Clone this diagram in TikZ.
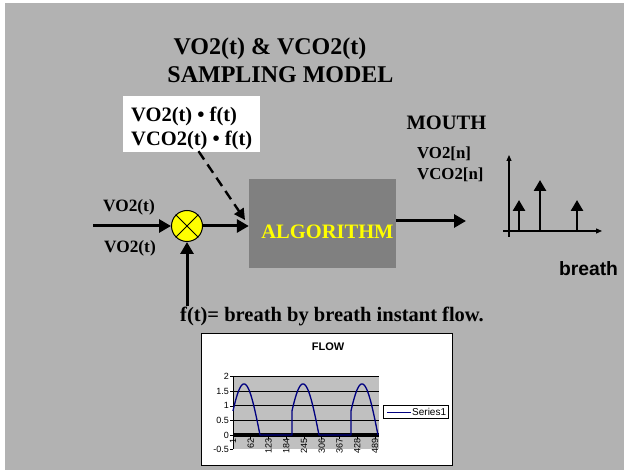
\documentclass[tikz,border=0pt]{standalone}
\usepackage{fontspec}
\setmainfont{Liberation Serif}
\setsansfont{Liberation Sans}
\usepackage{xcolor}
\usepackage{tikz}
\usetikzlibrary{arrows.meta, positioning, calc}
\definecolor{slidegray}{HTML}{B2B2B2}
\definecolor{algogray}{HTML}{808080}
\definecolor{plotgray}{HTML}{C0C0C0}
\definecolor{flownavy}{HTML}{000080}
\definecolor{multyellow}{HTML}{FFFF00}

\begin{document}
\begin{tikzpicture}[x=1pt, y=-1pt,
    bigarrow/.style={line width=3pt, -{Triangle[length=12pt,width=13pt]}},
    stemarrow/.style={line width=2.6pt, -{Triangle[length=11pt,width=12pt]}},
    axisarrow/.style={line width=1.2pt, -{Triangle[length=6pt,width=5pt]}},
    titlefont/.style={font=\bfseries\fontsize{24}{28}\selectfont, inner sep=0pt, anchor=base},
    labelfont/.style={font=\bfseries\fontsize{17.3}{21}\selectfont, inner sep=0pt, anchor=base},
    chartfont/.style={font=\sffamily\fontsize{9}{10}\selectfont, inner sep=0pt},
    declare function={hump(\x,\s)=435-29.2*1.75*sin(180*(\x-\s+5)/32);}]
  \useasboundingbox (0,0) rectangle (624,470);
  \fill[white] (0,0) rectangle (624,470);
  \fill[slidegray] (5,3) rectangle (624,470);

  % title
  \node[titlefont] (title1) at (270,55) {VO2(t) \& VCO2(t)};
  \node[titlefont] (title2) at (280.5,83) {SAMPLING MODEL};

  % product box
  \node[fill=white, minimum width=137, minimum height=56, inner sep=0pt] (prod) at (191.5,124) {};
  \node[font=\bfseries\fontsize{20.5}{24.5}\selectfont, align=left, inner sep=0pt,
        anchor=north west] (prodtxt) at (131,106.5) {VO2(t) • f(t)\\VCO2(t) • f(t)};

  % blocks
  \node[circle, draw, line width=1pt, fill=multyellow, minimum size=31, inner sep=0pt] (mult) at (187,226) {};
  \draw[line width=0.8pt] (mult.north west) -- (mult.south east)
                          (mult.north east) -- (mult.south west);
  \node[fill=algogray, minimum width=147, minimum height=89, inner sep=0pt] (algo) at (322.5,223.5) {};
  \node[font=\bfseries\fontsize{20.5}{24}\selectfont, text=multyellow, inner sep=0pt, anchor=base]
    (algolbl) at (327.5,239) {ALGORITHM};

  % signals
  \coordinate (vin) at (93,226);
  \coordinate (fin) at (187,306);
  \coordinate (mouthin) at (466,221);
  \coordinate (dashtip) at (245,220);
  \draw[bigarrow] (vin) -- (mult.west);
  \draw[bigarrow] (fin) -- (mult.south);
  \draw[bigarrow] (mult.east) -- (mult.east -| algo.west);
  \draw[bigarrow] (algo.east |- mouthin) -- (mouthin);
  \draw[line width=2.4pt, dash pattern=on 10pt off 6pt, -{Triangle[length=11pt,width=11pt]}]
    ($(prod.south)+(7,-1)$) -- (dashtip);

  \node[labelfont] (vo2a) at (129,212) {VO2(t)};
  \node[labelfont] (vo2b) at (130,252.5) {VO2(t)};
  \node[font=\bfseries\fontsize{20.5}{24}\selectfont, inner sep=0pt, anchor=base] (mouth) at (446.5,130) {MOUTH};
  \node[font=\bfseries\fontsize{16.8}{21}\selectfont, align=left, inner sep=0pt,
        anchor=north west] (vout) at (417,146.5) {VO2[n]\\VCO2[n]};
  \node[font=\bfseries\fontsize{20.5}{24}\selectfont, inner sep=0pt, anchor=base] (flowtxt) at (332,322) {f(t)= breath by breath instant flow.};
  \node[font=\sffamily\bfseries\fontsize{19.3}{22}\selectfont, inner sep=0pt, anchor=base] (breath) at (588.5,276) {breath};

  % stem plot
  \draw[axisarrow] (509,237) -- (509,155);
  \draw[axisarrow] (503,231) -- (602,231);
  \draw[stemarrow] (519,231) -- (519,200);
  \draw[stemarrow] (540,231) -- (540,180);
  \draw[stemarrow] (577,231) -- (577,200);

  % flow chart
  \draw[line width=1.8pt, fill=white] (201.5,333.5) rectangle (452.5,465.5);
  \node[font=\sffamily\bfseries\fontsize{11}{12}\selectfont, inner sep=0pt, anchor=base] (flowttl) at (328,351) {FLOW};
  \fill[plotgray] (233,376) rectangle (379,449);
  \foreach \v/\lbl in {2/2, 1.5/1.5, 1/1, 0.5/0.5} {
    \draw[line width=0.8pt] (233,{435-29.2*\v}) -- (379,{435-29.2*\v});
  }
  \foreach \v/\lbl in {2/2, 1.5/1.5, 1/1, 0.5/0.5, 0/0, -0.5/-0.5} {
    \draw[line width=0.6pt] (230,{435-29.2*\v}) -- (233,{435-29.2*\v});
    \node[chartfont, anchor=east] at (229,{435-29.2*\v}) {\lbl};
  }
  \draw[line width=0.8pt] (233,376) -- (233,449);
  \draw[line width=4.5pt] (233,435) -- (379,435);
  \foreach \lbl [count=\i from 0] in {1,62,123,184,245,306,367,428,489} {
    \draw[line width=0.6pt] ({233+17.75*\i},435) -- ({233+17.75*\i},439);
    \node[chartfont, rotate=90, anchor=east] at ({233+17.75*\i},438) {\lbl};
  }
  \draw[flownavy, line width=1.3pt, line join=round]
    plot[domain=233:260, samples=28] (\x,{hump(\x,233)}) -- (292,435)
    -- plot[domain=292:319, samples=28] (\x,{hump(\x,292)}) -- (351,435)
    -- plot[domain=351:378, samples=28] (\x,{hump(\x,351)});
  \draw[line width=0.8pt, fill=white] (383.5,405.5) rectangle (448.5,418.5);
  \draw[flownavy, line width=1pt] (387,412) -- (411,412);
  \node[font=\sffamily\fontsize{10}{11}\selectfont, inner sep=0pt, anchor=west] (series) at (412,412) {Series1};
\end{tikzpicture}
\end{document}
